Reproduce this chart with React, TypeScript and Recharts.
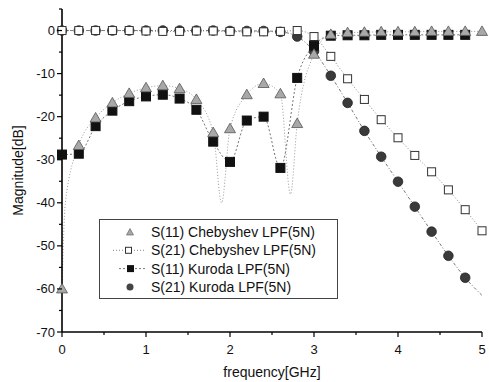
import { LineChart, Line, XAxis, YAxis } from "recharts";

// frequency points of the markers [GHz]
const freq = [
  0, 0.2, 0.4, 0.6, 0.8, 1.0, 1.2, 1.4, 1.6, 1.8, 2.0, 2.2, 2.4, 2.6, 2.8,
  3.0, 3.2, 3.4, 3.6, 3.8, 4.0, 4.2, 4.4, 4.6, 4.8, 5.0,
];

// magnitudes [dB]
const s11Cheb = [
  -60, -26.7, -20.3, -16.8, -14.6, -13.3, -12.8, -13.5, -16.0, -23.7, -22.8,
  -14.9, -12.3, -14.7, -21.6, -5.5, -0.9, -0.5, -0.4, -0.3, -0.3, -0.3, -0.2,
  -0.2, -0.2, -0.2,
];
const s21Cheb = [
  0, 0, 0, 0, 0, -0.1, -0.2, -0.2, -0.1, -0.1, -0.2, -0.3, -0.3, -0.2, 0,
  -1.4, -6.0, -11.2, -16.0, -20.7, -24.9, -29.0, -32.8, -37.0, -41.6, -46.5,
];
const s11Kuroda = [
  -28.8, -28.6, -22.2, -18.6, -16.4, -15.3, -14.9, -15.8, -18.4, -25.8, -30.5,
  -20.9, -20.0, -31.9, -11.0, -3.5, -1.2, -1.1, -1.1, -1.0, -1.0, -1.0, -1.0,
  -1.0, -1.0, null,
];
const s21Kuroda = [
  0, 0, 0, 0, 0, 0, 0, 0, 0, 0, -0.1, -0.1, -0.1, -0.3, -1.4, -4.8, -10.5,
  -16.8, -23.3, -29.3, -35.1, -40.9, -46.7, -52.3, -57.4, null,
];

// points on the traces that carry no marker (nulls of the curves, line end)
const s11ChebTrace: [number, number][] = [
  [0.04, -40],
  [1.9, -40],
  [2.72, -38],
];
const s21KurodaTrace: [number, number][] = [[5.0, -61.5]];

const xTicks = [0, 0.5, 1, 1.5, 2, 2.5, 3, 3.5, 4, 4.5, 5];
const yTicks = [-70, -65, -60, -55, -50, -45, -40, -35, -30, -25, -20, -15, -10, -5, 0, 5];

type Pt = { f: number; v: number; m: boolean };

function build(vals: (number | null)[], extra: [number, number][] = []): Pt[] {
  const pts: Pt[] = [];
  freq.forEach((f, i) => {
    const v = vals[i];
    if (v !== null && v !== undefined) pts.push({ f, v, m: true });
  });
  extra.forEach(([f, v]) => pts.push({ f, v, m: false }));
  return pts.sort((a, b) => a.f - b.f);
}

const font = "Arial, 'Liberation Sans', sans-serif";

function Triangle({ cx, cy }: { cx: number; cy: number }) {
  return (
    <polygon
      points={`${cx},${cy - 5.5} ${cx - 5.5},${cy + 4} ${cx + 5.5},${cy + 4}`}
      fill="#a8a8a8"
      stroke="#555"
      strokeWidth={0.8}
    />
  );
}
function OpenSquare({ cx, cy }: { cx: number; cy: number }) {
  return <rect x={cx - 4} y={cy - 4} width={8} height={8} fill="#fff" stroke="#333" strokeWidth={1} />;
}
function FilledSquare({ cx, cy }: { cx: number; cy: number }) {
  return <rect x={cx - 4.5} y={cy - 4.5} width={9} height={9} fill="#111" stroke="#111" />;
}
function Circle({ cx, cy }: { cx: number; cy: number }) {
  return <circle cx={cx} cy={cy} r={4.8} fill="#3a3a3a" stroke="#222" strokeWidth={0.8} />;
}

function dotWith(Shape: (p: { cx: number; cy: number }) => any) {
  return (props: any) => {
    const { cx, cy, payload, index } = props;
    if (!payload || !payload.m || cx == null || cy == null) return <g key={index} />;
    return (
      <g key={index}>
        <Shape cx={cx} cy={cy} />
      </g>
    );
  };
}

function XTick(props: any) {
  const { x, y, payload } = props;
  const v = Number(payload.value);
  const major = Math.abs(v - Math.round(v)) < 1e-6;
  return (
    <g>
      <line x1={x} x2={x} y1={y} y2={y + (major ? 5 : 3)} stroke="#000" strokeWidth={1.2} />
      {major && (
        <text x={x} y={y + 22} textAnchor="middle" fontSize={13} fontFamily={font} fill="#111">
          {String(Math.round(v))}
        </text>
      )}
    </g>
  );
}

function YTick(props: any) {
  const { x, y, payload } = props;
  const v = Math.round(Number(payload.value));
  const major = Math.abs(v) % 10 === 0 && v <= 0;
  return (
    <g>
      <line x1={x - (major ? 5 : 3)} x2={x} y1={y} y2={y} stroke="#000" strokeWidth={1.2} />
      {major && (
        <text x={x - 7} y={y + 4.5} textAnchor="end" fontSize={13} fontFamily={font} fill="#111">
          {String(v)}
        </text>
      )}
    </g>
  );
}

const legendRows = [
  { label: "S(11) Chebyshev LPF(5N)", icon: "tri" },
  { label: "S(21) Chebyshev LPF(5N)", icon: "open" },
  { label: "S(11) Kuroda LPF(5N)", icon: "filled" },
  { label: "S(21) Kuroda LPF(5N)", icon: "circle" },
];

function LegendBox() {
  return (
    <svg width={240} height={81} style={{ position: "absolute", left: 99, top: 219 }}>
      <rect x={0.5} y={0.5} width={238} height={79} fill="#fff" stroke="#444" strokeWidth={1} />
      {legendRows.map((r, i) => {
        const cy = 13 + i * 18.3;
        return (
          <g key={r.label}>
            {r.icon === "open" && (
              <line x1={14} x2={46} y1={cy} y2={cy} stroke="#888" strokeDasharray="1 2" />
            )}
            {r.icon === "filled" && (
              <line x1={20} x2={46} y1={cy} y2={cy} stroke="#777" strokeDasharray="2 2" />
            )}
            {r.icon === "tri" && (
              <polygon
                points={`31,${cy - 3.5} 27.5,${cy + 3} 34.5,${cy + 3}`}
                fill="#a8a8a8"
                stroke="#666"
                strokeWidth={0.7}
              />
            )}
            {r.icon === "open" && (
              <rect x={26.5} y={cy - 3} width={6} height={6} fill="#fff" stroke="#333" />
            )}
            {r.icon === "filled" && <rect x={28} y={cy - 3.5} width={7} height={7} fill="#111" />}
            {r.icon === "circle" && <circle cx={31} cy={cy} r={3.5} fill="#444" />}
            <text x={52} y={cy + 5} fontSize={14} fontFamily={font} fill="#111">
              {r.label}
            </text>
          </g>
        );
      })}
    </svg>
  );
}

export default function App() {
  return (
    <div style={{ position: "absolute", left: 0, top: 0, width: 489, height: 382, background: "#fff" }}>
      <LineChart width={489} height={382} margin={{ top: 9, right: 7, bottom: 0, left: 0 }}>
        <XAxis
          dataKey="f"
          type="number"
          domain={[0, 5]}
          ticks={xTicks}
          interval={0}
          allowDuplicatedCategory={false}
          height={50}
          tickSize={0}
          tickMargin={0}
          tickLine={false}
          tick={(p: any) => <XTick {...p} />}
          axisLine={{ stroke: "#000", strokeWidth: 1.6 }}
          label={{
            value: "frequency[GHz]",
            position: "insideBottom",
            offset: 5,
            style: { fontSize: 14, fontFamily: font, fill: "#111" },
          }}
        />
        <YAxis
          type="number"
          domain={[-70, 5]}
          ticks={yTicks}
          interval={0}
          width={62}
          tickSize={0}
          tickMargin={0}
          tickLine={false}
          tick={(p: any) => <YTick {...p} />}
          axisLine={{ stroke: "#000", strokeWidth: 1.6 }}
          label={{
            value: "Magnitude[dB]",
            angle: -90,
            position: "insideLeft",
            offset: 18,
            style: { textAnchor: "middle", fontSize: 14, fontFamily: font, fill: "#111" },
          }}
        />
        <Line
          data={build(s21Kuroda, s21KurodaTrace)}
          dataKey="v"
          type="monotone"
          stroke="#777"
          strokeWidth={1}
          strokeDasharray="3 2 1 2"
          dot={dotWith(Circle)}
          activeDot={false}
          isAnimationActive={false}
        />
        <Line
          data={build(s21Cheb)}
          dataKey="v"
          type="monotone"
          stroke="#888"
          strokeWidth={1}
          strokeDasharray="1 2"
          dot={dotWith(OpenSquare)}
          activeDot={false}
          isAnimationActive={false}
        />
        <Line
          data={build(s11Kuroda)}
          dataKey="v"
          type="monotone"
          stroke="#777"
          strokeWidth={1}
          strokeDasharray="2 2"
          dot={dotWith(FilledSquare)}
          activeDot={false}
          isAnimationActive={false}
        />
        <Line
          data={build(s11Cheb, s11ChebTrace)}
          dataKey="v"
          type="monotone"
          stroke="#999"
          strokeWidth={1}
          strokeDasharray="1 2"
          dot={dotWith(Triangle)}
          activeDot={false}
          isAnimationActive={false}
        />
      </LineChart>
      <LegendBox />
    </div>
  );
}
